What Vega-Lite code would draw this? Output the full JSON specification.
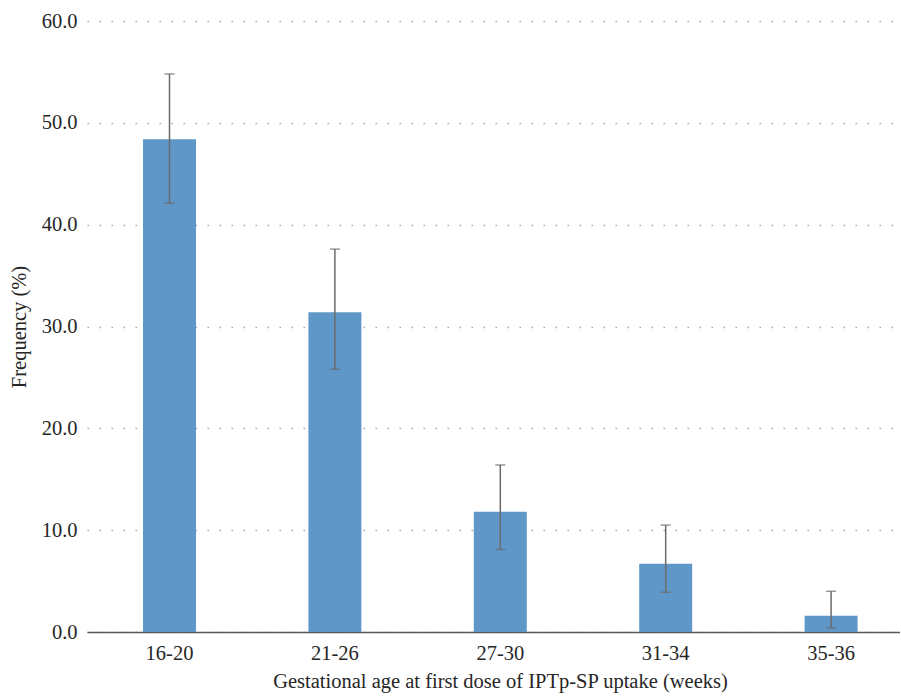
{
  "$schema": "https://vega.github.io/schema/vega-lite/v6.json",
  "autosize": "none",
  "padding": {"left": 87, "top": 21, "right": 0, "bottom": 64},
  "width": 813,
  "height": 611,
  "background": "white",
  "config": {
    "view": {"stroke": null},
    "font": "Liberation Serif",
    "axis": {
      "labelFont": "Liberation Serif",
      "titleFont": "Liberation Serif",
      "labelFontSize": 20.5,
      "titleFontSize": 20.5,
      "titleFontWeight": "normal",
      "labelColor": "#262626",
      "titleColor": "#262626"
    }
  },
  "data": {
    "values": [
      {"age": "16-20", "freq": 48.4, "lo": 42.1, "hi": 54.8},
      {"age": "21-26", "freq": 31.4, "lo": 25.8, "hi": 37.6},
      {"age": "27-30", "freq": 11.8, "lo": 8.1, "hi": 16.4},
      {"age": "31-34", "freq": 6.7, "lo": 3.9, "hi": 10.5},
      {"age": "35-36", "freq": 1.6, "lo": 0.4, "hi": 4.0}
    ]
  },
  "encoding": {
    "x": {
      "field": "age",
      "type": "nominal",
      "sort": null,
      "scale": {"paddingInner": 0.6796, "paddingOuter": 0.2975, "align": 0.569},
      "axis": {
        "title": "Gestational age at first dose of IPTp-SP uptake (weeks)",
        "labelAngle": 0,
        "ticks": false,
        "labelPadding": 11,
        "titlePadding": 8,
        "titleX": 413,
        "domainColor": "#595959",
        "domainWidth": 1.5,
        "grid": false
      }
    }
  },
  "layer": [
    {
      "mark": {"type": "bar", "color": "#6097c9"},
      "encoding": {
        "y": {
          "field": "freq",
          "type": "quantitative",
          "scale": {"domain": [0, 60], "nice": false},
          "axis": {
            "title": "Frequency (%)",
            "values": [0, 10, 20, 30, 40, 50, 60],
            "format": ".1f",
            "domain": false,
            "ticks": false,
            "labelPadding": 10,
            "titlePadding": 12,
            "grid": true,
            "gridColor": "#a8a8a8",
            "gridWidth": 1.6,
            "gridDash": [1.6, 10.4]
          }
        }
      }
    },
    {
      "mark": {"type": "rule", "color": "#6b6b6b", "strokeWidth": 1.5},
      "encoding": {
        "y": {"field": "lo", "type": "quantitative"},
        "y2": {"field": "hi"}
      }
    },
    {
      "mark": {"type": "tick", "color": "#6b6b6b", "thickness": 1.5, "size": 10},
      "encoding": {"y": {"field": "lo", "type": "quantitative"}}
    },
    {
      "mark": {"type": "tick", "color": "#6b6b6b", "thickness": 1.5, "size": 10},
      "encoding": {"y": {"field": "hi", "type": "quantitative"}}
    }
  ]
}
